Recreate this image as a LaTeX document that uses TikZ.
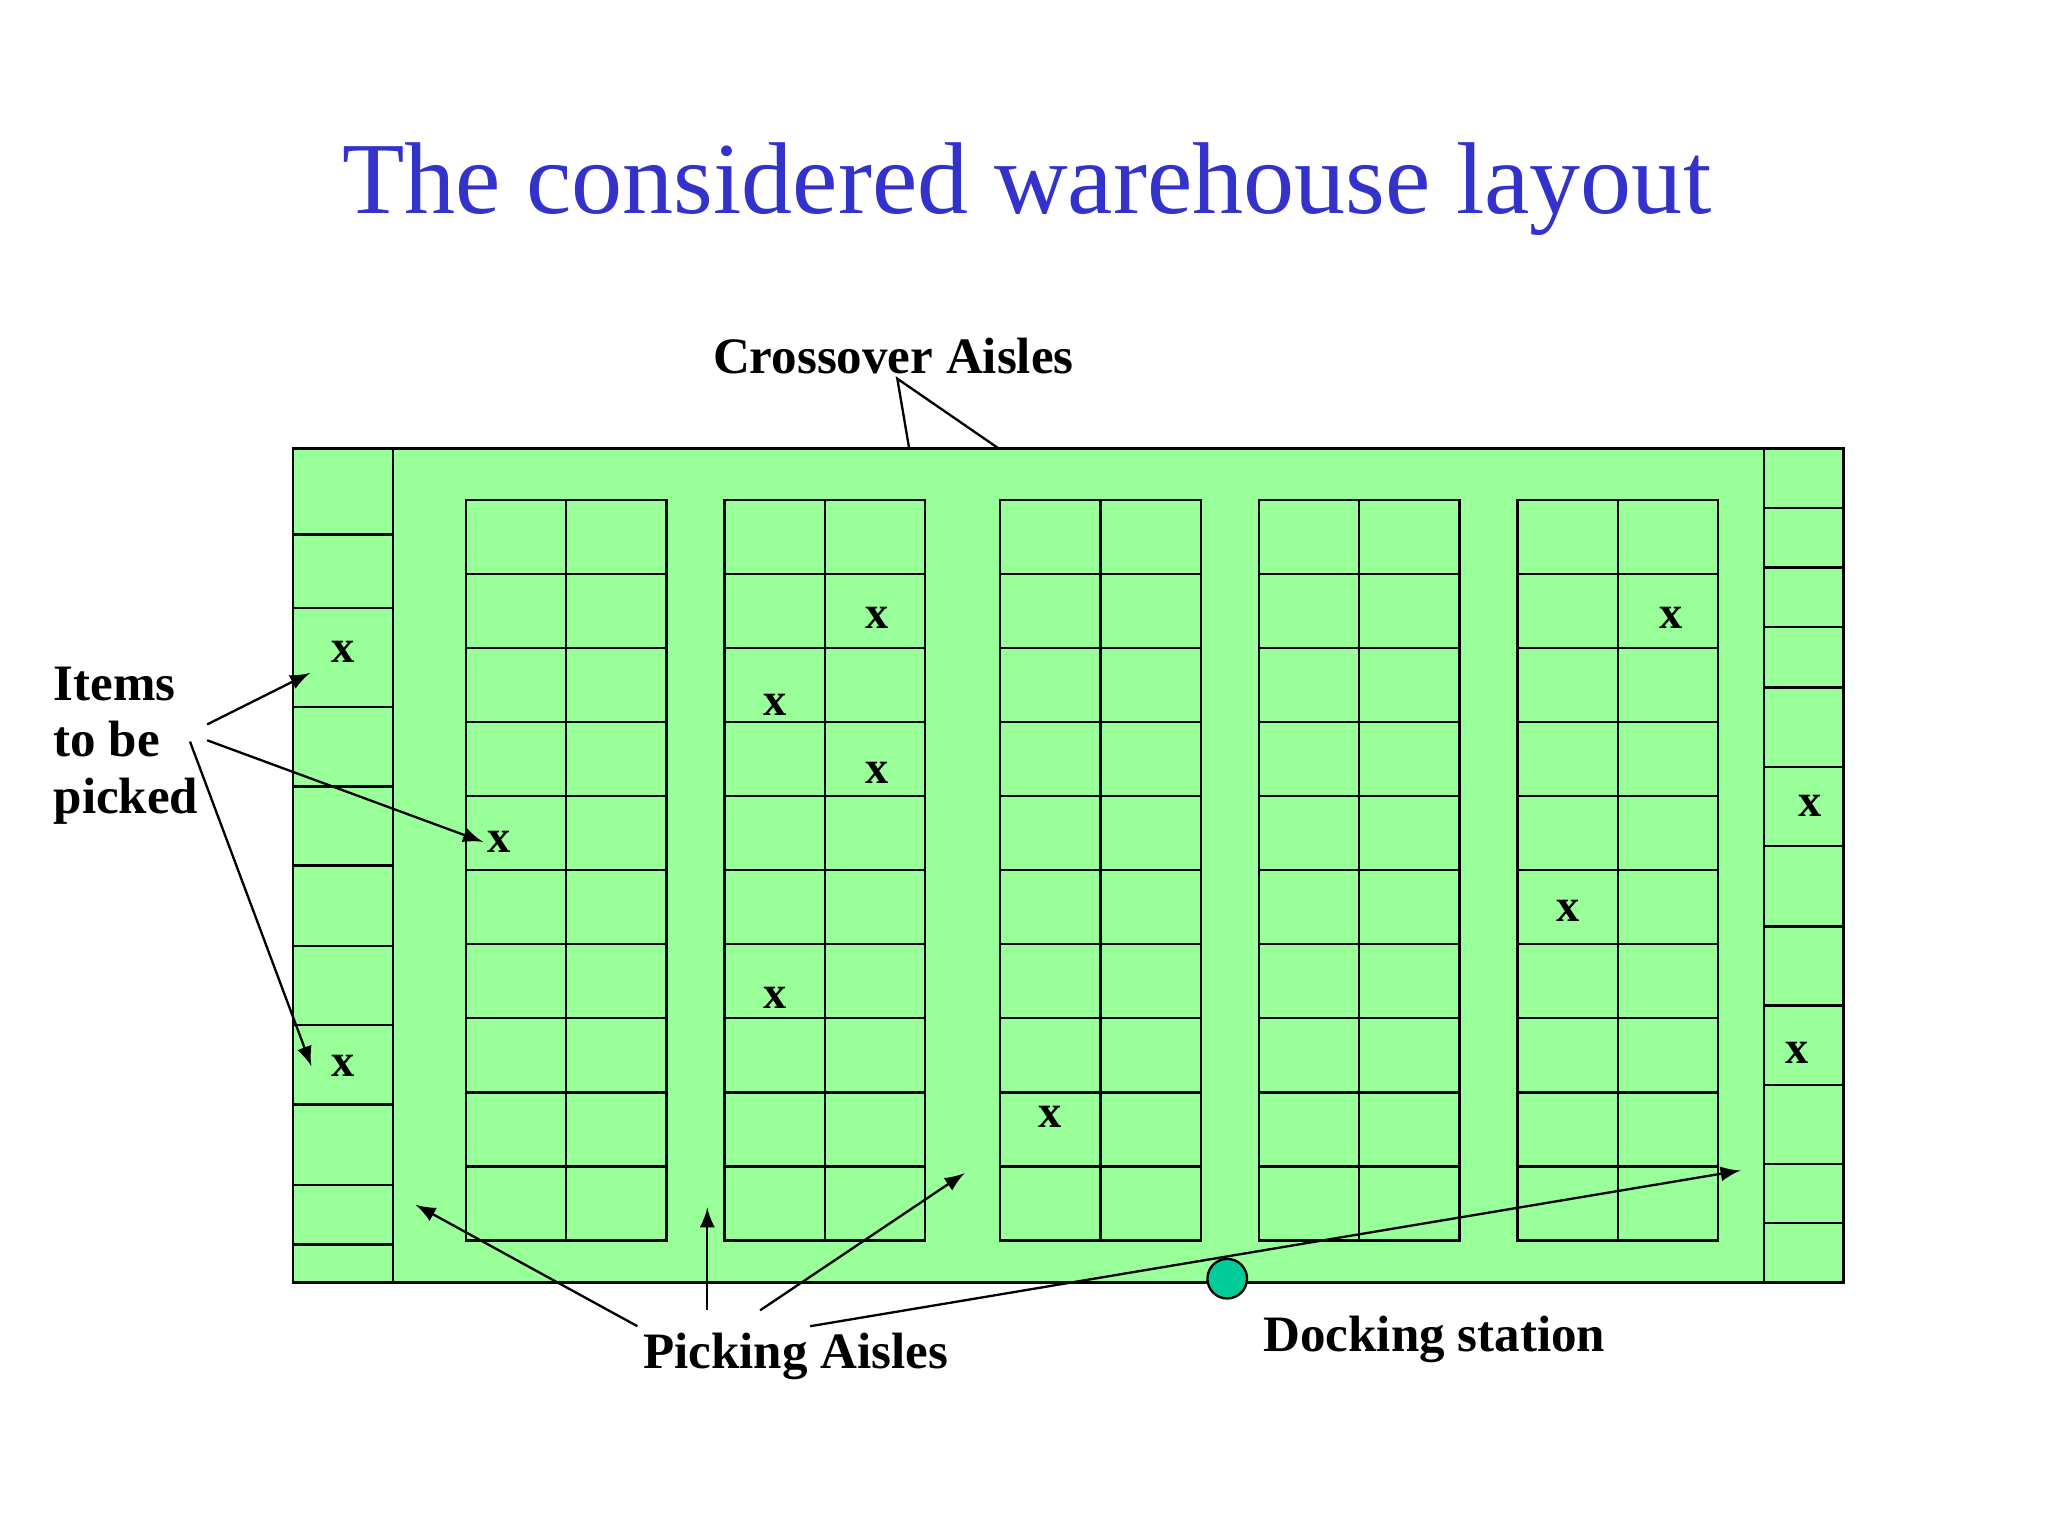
\documentclass[tikz,border=0pt]{standalone}
\usepackage{fontspec}
\setmainfont{Liberation Serif}
\definecolor{gr}{RGB}{153,255,153}
\definecolor{tt}{RGB}{51,51,204}
\definecolor{dock}{RGB}{0,204,153}
\begin{document}
\begin{tikzpicture}[x=0.01cm,y=-0.01cm,
  lbl/.style={font=\bfseries\fontsize{11}{12.5}\selectfont,align=left},
  xm/.style={font=\bfseries\fontsize{10}{10}\selectfont,inner sep=0pt},
  arr/.style={-latex,line width=0.5pt},
  ln/.style={line width=0.5pt}]
\useasboundingbox (0,0) rectangle (1552,1164);
\node[font=\fontsize{22}{26}\selectfont,text=tt] (title) at (778,143) {The considered warehouse layout};
\draw[fill=gr,line width=0.5pt] (222,340) rectangle (1397,972);
\draw[ln] (298,340) -- (298,972) (1337,340) -- (1337,972);
\foreach \y in {405,461,536,596,656,717,777,837,898,943} \draw[ln] (222,\y) -- (298,\y);
\foreach \y in {385,430,475,521,581,641,702,762,822,882,927} \draw[ln] (1337,\y) -- (1397,\y);
\foreach \x in {353,549,758,954,1150}{
  \draw[ln] (\x,379) rectangle (\x+152,940);
  \draw[ln] (\x+76,379) -- (\x+76,940);
  \foreach \k in {1,...,9} \draw[ln] (\x,379+56.1*\k) -- (\x+152,379+56.1*\k);
}
\foreach \p/\n in {{260,494}/x1,{260,808}/x2,{378,638}/x3,{665,468}/x4,{587,534}/x5,{665,586}/x6,{587,756}/x7,{796,846}/x8,{1266,468}/x9,{1188,690}/x10,{1372,611}/x11,{1362,798}/x12}
  \node[xm] (\n) at (\p) {x};
\node[lbl] (cross) at (677,270) {Crossover Aisles};
\coordinate (cj) at (680,287);
\coordinate (c1) at (689,340);
\coordinate (c2) at (757,340);
\draw[ln] (c1) -- (cj) -- (c2);
\node[lbl,anchor=west,inner sep=0pt,font=\bfseries\fontsize{11}{12.2}\selectfont] (items) at (40,565) {Items\\to be\\picked};
\coordinate (i1) at (157,549); \coordinate (i2) at (157,561); \coordinate (i3) at (144,562);
\coordinate (t1) at (235,510); \coordinate (t2) at (366,638); \coordinate (t3) at (236,808);
\draw[arr] (i1) -- (t1);
\draw[arr] (i2) -- (t2);
\draw[arr] (i3) -- (t3);
\node[lbl] (pick) at (603,1028) {Picking Aisles};
\coordinate (p1) at (483,1005); \coordinate (p2) at (536,993); \coordinate (p3) at (576,993); \coordinate (p4) at (614,1005);
\coordinate (a1) at (315,913); \coordinate (a2) at (536,915); \coordinate (a3) at (731,889); \coordinate (a4) at (1319,887);
\draw[arr] (p1) -- (a1);
\draw[arr] (p2) -- (a2);
\draw[arr] (p3) -- (a3);
\draw[arr] (p4) -- (a4);
\node[circle,draw,fill=dock,minimum size=0.3cm,inner sep=0pt,line width=0.5pt] (dockc) at (930,969) {};
\node[lbl] (dockl) at (1087,1015) {Docking station};
\end{tikzpicture}
\end{document}
